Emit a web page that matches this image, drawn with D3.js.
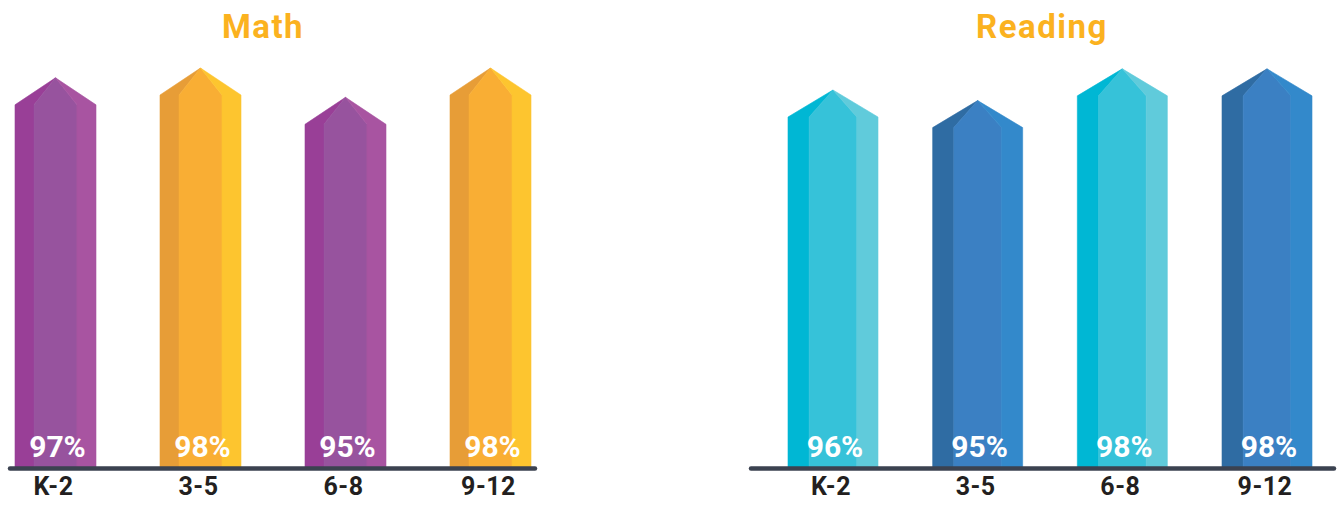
<!DOCTYPE html>
<html>
<head>
<meta charset="utf-8">
<script src="https://cdn.jsdelivr.net/npm/d3@7/dist/d3.min.js"></script>
<style>
  html, body { margin: 0; padding: 0; background: #ffffff; }
  svg { display: block; }
  text { font-family: Roboto, "Liberation Sans", Arial, sans-serif; font-weight: 700; }
</style>
</head>
<body>
<svg id="chart" width="1339" height="509"></svg>
<script>
// ---- data ----
const categories = ["K-2", "3-5", "6-8", "9-12"];
const mathValues = [97, 98, 95, 98];
const readingValues = [96, 95, 98, 98];
const valueLabels = ["97%", "98%", "95%", "98%"];
const readingLabels = ["96%", "95%", "98%", "98%"];
const panelTitles = ["Math", "Reading"];

// ---- styles ----
const palettes = {
  purple: ["#993f97", "#97539e", "#a854a1"],
  orange: ["#e79d37", "#f9ae34", "#fdc52f"],
  cyan:   ["#00b7d4", "#36c2d9", "#60cbdb"],
  blue:   ["#2f6ca3", "#3b80c3", "#3389cb"]
};
const mathColors = ["purple", "orange", "purple", "orange"];
const readingColors = ["cyan", "blue", "cyan", "blue"];

const svg = d3.select("#chart");
const baseY = 466;
const apexH = 27;

const panels = [
  { title: panelTitles[0], values: mathValues, labels: valueLabels, colors: mathColors,
    xRange: [15, 531], pad: 0.4414, yDomain: [60, 100], yTop: 75.5,
    lineX: [10, 535], titleX: 263 },
  { title: panelTitles[1], values: readingValues, labels: readingLabels, colors: readingColors,
    xRange: [788, 1312], pad: 0.378, yDomain: [63, 100], yTop: 74.7,
    lineX: [751, 1334], titleX: 1042 }
];

panels.forEach(p => {
  const g = svg.append("g");
  const x = d3.scaleBand().domain(categories).range(p.xRange).paddingInner(p.pad).paddingOuter(0);
  const y = d3.scaleLinear().domain(p.yDomain).range([baseY, p.yTop]);
  const bw = x.bandwidth();
  const sw = bw * 0.235; // side stripe width

  const data = categories.map((c, i) => ({ c, v: p.values[i], lab: p.labels[i], pal: palettes[p.colors[i]] }));

  const bars = g.selectAll("g.bar").data(data).enter().append("g").attr("class", "bar");

  bars.each(function(d) {
    const L = x(d.c), R = L + bw, Li = L + sw, Ri = R - sw;
    const sh = y(d.v), cx = L + bw / 2, ax = cx, ay = sh - apexH;
    const b = baseY + 2;
    const polys = [
      [[L, b], [L, sh], [ax, ay], [Li, sh], [Li, b]],
      [[Li, b], [Li, sh], [ax, ay], [Ri, sh], [Ri, b]],
      [[Ri, b], [Ri, sh], [ax, ay], [R, sh], [R, b]]
    ];
    const sel = d3.select(this);
    polys.forEach((pts, k) => {
      sel.append("polygon")
        .attr("points", pts.map(q => q.join(",")).join(" "))
        .attr("fill", d.pal[k])
        .attr("stroke", d.pal[k])
        .attr("stroke-width", 0.6);
    });
    sel.append("text")
      .attr("x", cx + 2)
      .attr("y", 457)
      .attr("text-anchor", "middle")
      .attr("font-size", 30)
      .attr("fill", "#ffffff")
      .text(d.lab);
  });

  // baseline
  g.append("line")
    .attr("x1", p.lineX[0]).attr("x2", p.lineX[1])
    .attr("y1", 468.5).attr("y2", 468.5)
    .attr("stroke", "#3b4250")
    .attr("stroke-width", 4.5)
    .attr("stroke-linecap", "round");

  // category labels
  g.selectAll("text.cat").data(categories).enter().append("text")
    .attr("class", "cat")
    .attr("x", d => x(d) + bw / 2 - 2)
    .attr("y", 495)
    .attr("text-anchor", "middle")
    .attr("font-size", 25)
    .attr("letter-spacing", 0.5)
    .attr("fill", "#231f20")
    .text(d => d);

  // title
  g.append("text")
    .attr("x", p.titleX)
    .attr("y", 38)
    .attr("text-anchor", "middle")
    .attr("font-size", 33)
    .attr("letter-spacing", 1.5)
    .attr("fill", "#fbb21f")
    .text(p.title);
});
</script>
</body>
</html>
